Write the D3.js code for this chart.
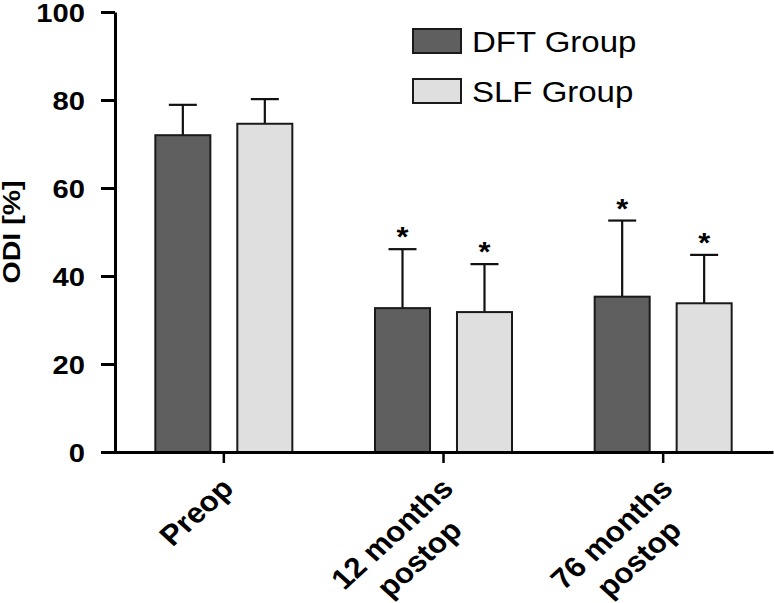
<!DOCTYPE html>
<html>
<head>
<meta charset="utf-8">
<script src="https://cdn.jsdelivr.net/npm/d3@7"></script>
<style>
  html, body { margin: 0; padding: 0; background: #fff; }
  svg { display: block; font-family: "Liberation Sans", Arial, sans-serif; }
</style>
</head>
<body>
<svg id="chart" width="774" height="603"></svg>
<script>
// ---- data ----
const categories = ["Preop", "12 months postop", "76 months postop"];
const categoryLines = [["Preop"], ["12 months", "postop"], ["76 months", "postop"]];
const series = ["DFT Group", "SLF Group"];
const dftMean = [72.0, 32.7, 35.3];
const dftSD = [6.9, 13.4, 17.3];
const slfMean = [74.6, 31.8, 33.8];
const slfSD = [5.6, 10.9, 11.0];
const significant = [false, true, true];
const yTicks = [0, 20, 40, 60, 80, 100];
const yLabel = "ODI [%]";

const colors = { "DFT Group": "#5f5f5f", "SLF Group": "#dfdfdf" };
const stretch = 1.1;

const svg = d3.select("#chart");

const y = d3.scaleLinear().domain([0, 100]).range([452, 12]);
const x0 = d3.scaleBand().domain(categories).range([114, 773]).paddingInner(0).paddingOuter(0);
const x1 = d3.scaleBand().domain(series).range([-68.5, 68.5]).paddingInner(0.329).paddingOuter(0);

const rows = [];
categories.forEach((c, i) => {
  rows.push({ cat: c, s: series[0], mean: dftMean[i], sd: dftSD[i], sig: significant[i] });
  rows.push({ cat: c, s: series[1], mean: slfMean[i], sd: slfSD[i], sig: significant[i] });
});
const center = c => x0(c) + x0.bandwidth() / 2;

// error bars (drawn first, bars cover the lower part)
const eb = svg.append("g");
rows.forEach(d => {
  const xc = center(d.cat) + x1(d.s) + x1.bandwidth() / 2;
  eb.append("line").attr("x1", xc).attr("x2", xc)
    .attr("y1", y(d.mean)).attr("y2", y(d.mean + d.sd))
    .attr("stroke", "#111").attr("stroke-width", 2.2);
  eb.append("line").attr("x1", xc - 14).attr("x2", xc + 14)
    .attr("y1", y(d.mean + d.sd)).attr("y2", y(d.mean + d.sd))
    .attr("stroke", "#111").attr("stroke-width", 2.2);
  if (d.sig) {
    eb.append("text")
      .attr("transform", `translate(${xc},${y(d.mean + d.sd) - 3}) scale(${stretch},1)`)
      .attr("text-anchor", "middle")
      .attr("font-weight", "bold").attr("font-size", 28)
      .text("*");
  }
});

// bars
svg.append("g").selectAll("rect").data(rows).join("rect")
  .attr("x", d => center(d.cat) + x1(d.s))
  .attr("width", x1.bandwidth())
  .attr("y", d => y(d.mean))
  .attr("height", d => y(0) - y(d.mean))
  .attr("fill", d => colors[d.s])
  .attr("stroke", "#1a1a1a").attr("stroke-width", 2);

// y axis
const yAxis = svg.append("g").attr("transform", "translate(115,0)")
  .call(d3.axisLeft(y).tickValues(yTicks).tickSize(14).tickSizeOuter(0).tickPadding(0));
yAxis.select(".domain").attr("stroke", "#000").attr("stroke-width", 3);
yAxis.selectAll(".tick line").attr("stroke", "#000").attr("stroke-width", 3);
yAxis.selectAll(".tick text").remove();
yAxis.selectAll(".tick").append("text")
  .attr("transform", `translate(-30,0) scale(${stretch},1)`)
  .attr("text-anchor", "end").attr("dy", "0.36em")
  .attr("fill", "#000").attr("font-size", 26.5).attr("font-weight", "bold")
  .attr("font-family", "Liberation Sans, Arial, sans-serif")
  .text(d => d);

// x axis
const xAxis = svg.append("g").attr("transform", "translate(0,452)")
  .call(d3.axisBottom(x0).tickSize(11).tickSizeOuter(0));
xAxis.select(".domain").attr("stroke", "#000").attr("stroke-width", 3);
xAxis.selectAll(".tick line").attr("stroke", "#000").attr("stroke-width", 2.5);
xAxis.selectAll(".tick text").remove();
xAxis.selectAll(".tick").each(function (c) {
  const i = categories.indexOf(c);
  const lines = categoryLines[i];
  const g = d3.select(this).append("g")
    .attr("transform", `translate(-1,27) scale(${stretch},1) rotate(-45)`);
  const t1 = g.append("text").attr("text-anchor", "end")
    .attr("font-size", 28.5).attr("font-weight", "bold").attr("fill", "#000")
    .attr("font-family", "Liberation Sans, Arial, sans-serif")
    .attr("x", 0).attr("y", 16).text(lines[0]);
  if (lines.length > 1) {
    const w = t1.node().getComputedTextLength();
    g.append("text").attr("text-anchor", "middle")
      .attr("font-size", 28.5).attr("font-weight", "bold").attr("fill", "#000")
      .attr("font-family", "Liberation Sans, Arial, sans-serif")
      .attr("x", -w / 2).attr("y", 16 + 35).text(lines[1]);
  }
});

// y label
svg.append("text")
  .attr("transform", "translate(19.5,232) rotate(-90)")
  .attr("text-anchor", "middle")
  .attr("font-size", 23).attr("font-weight", "bold")
  .attr("textLength", 103).attr("lengthAdjust", "spacingAndGlyphs")
  .text(yLabel);

// legend
const leg = svg.append("g");
series.forEach((s, i) => {
  const gy = 29 + i * 50;
  leg.append("rect").attr("x", 413).attr("y", gy).attr("width", 48).attr("height", 24)
    .attr("fill", colors[s]).attr("stroke", "#1a1a1a").attr("stroke-width", 2);
  leg.append("text")
    .attr("transform", `translate(472,${gy + 23}) scale(${stretch},1)`)
    .attr("font-size", 30).attr("fill", "#000")
    .text(s);
});
</script>
</body>
</html>
